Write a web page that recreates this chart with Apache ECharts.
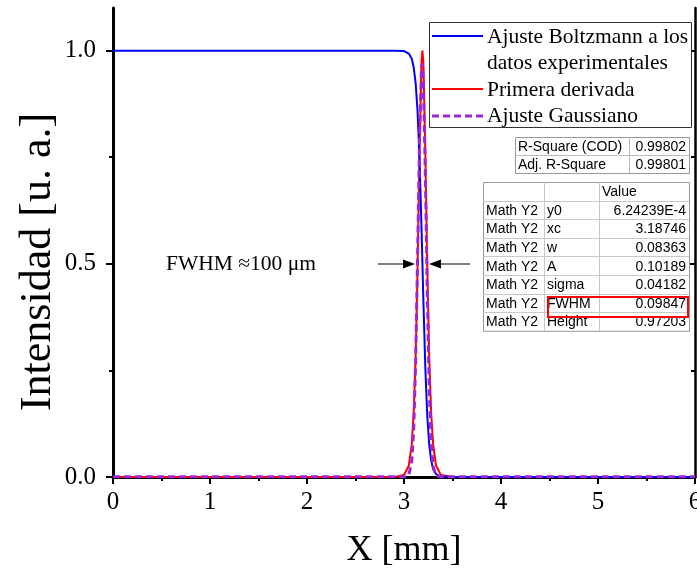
<!DOCTYPE html>
<html>
<head>
<meta charset="utf-8">
<script src="https://cdn.jsdelivr.net/npm/echarts@6/dist/echarts.min.js"></script>
<style>html,body{margin:0;padding:0;background:#fff;overflow:hidden;}#c{width:697px;height:569px;}</style>
</head>
<body>
<div id="c"></div>
<script>
// ---- data ----
const xVals = [0, 2.9, 3.0, 3.05, 3.08, 3.10, 3.12, 3.14, 3.16, 3.18, 3.19, 3.20, 3.22, 3.24, 3.26, 3.28, 3.30, 3.33, 3.38, 3.5, 6];
const boltzmannY = [1, 1, 0.999, 0.993, 0.981, 0.961, 0.924, 0.857, 0.745, 0.588, 0.5, 0.412, 0.255, 0.143, 0.076, 0.039, 0.019, 0.007, 0.001, 0, 0];
const derivativeY = [0, 0, 0.005, 0.027, 0.077, 0.15, 0.28, 0.49, 0.76, 0.97, 1.0, 0.97, 0.76, 0.49, 0.28, 0.15, 0.077, 0.027, 0.005, 0, 0];
const gaussianY = [0.0006, 0.0006, 0.0006, 0.005, 0.037, 0.111, 0.269, 0.516, 0.789, 0.958, 0.970, 0.926, 0.711, 0.435, 0.212, 0.082, 0.025, 0.003, 0.0006, 0.0006, 0.0006];

const yMajorTicks = [0, 0.5, 1.0];
const yMinorTicks = [0.25, 0.75];

const xTitle = 'X [mm]';
const yTitle = 'Intensidad [u. a.]';
const legendLabels = ['Ajuste Boltzmann a los', 'datos experimentales', 'Primera derivada', 'Ajuste Gaussiano'];
const fitStatNames = ['R-Square (COD)', 'Adj. R-Square'];
const fitStatValues = ['0.99802', '0.99801'];
const paramHeader = 'Value';
const paramRowLabel = 'Math Y2';
const paramNames = ['y0', 'xc', 'w', 'A', 'sigma', 'FWHM', 'Height'];
const paramValues = ['6.24239E-4', '3.18746', '0.08363', '0.10189', '0.04182', '0.09847', '0.97203'];
const fwhmText = 'FWHM \u2248100 \u03bcm';

// ---- styles ----
const SERIF = 'Liberation Serif';
const SANS = 'Liberation Sans';
const BLUE = '#0000ff', RED = '#ff0000', PURPLE = '#9d25d6';
const DASH = [7, 4];

const pairs = ys => xVals.map((x, i) => [x, ys[i]]);

const graphics = [];
// y-axis title (rotated)
graphics.push({type: 'text', x: 38, y: 262, rotation: Math.PI / 2,
  style: {text: yTitle, x: 0, y: 0, font: '44px "' + SERIF + '"', fill: '#000', textAlign: 'center', textVerticalAlign: 'middle'}, z: 5});

// legend box
const L = {x: 429, y: 22, w: 262, h: 105};
graphics.push({type: 'rect', shape: {x: L.x + 0.5, y: L.y + 0.5, width: L.w, height: L.h}, style: {fill: '#fff', stroke: '#333', lineWidth: 1}, z: 10});
const legLines = [
  {y: 36, color: BLUE, dash: null, w: 2},
  {y: 89, color: RED, dash: null, w: 2},
  {y: 116, color: PURPLE, dash: DASH, w: 3}
];
legLines.forEach(l => graphics.push({type: 'line', shape: {x1: 432, y1: l.y, x2: 483, y2: l.y}, style: {stroke: l.color, lineWidth: l.w, lineDash: l.dash}, z: 11}));
const legTextY = [37, 63, 90, 116];
legendLabels.forEach((t, i) => graphics.push({type: 'text', style: {text: t, x: 487, y: legTextY[i], font: '21.5px "' + SERIF + '"', fill: '#000', textVerticalAlign: 'middle'}, z: 11}));

// fit-stat table
const tFont = '14px "' + SANS + '"';
const T1 = {x: 515, y: 137, w: 174, rowH: 18, col: 629};
graphics.push({type: 'rect', shape: {x: T1.x + 0.5, y: T1.y + 0.5, width: T1.w, height: T1.rowH * 2}, style: {fill: '#fff', stroke: '#999', lineWidth: 1}, z: 10});
graphics.push({type: 'line', shape: {x1: T1.x, y1: T1.y + T1.rowH + 0.5, x2: T1.x + T1.w, y2: T1.y + T1.rowH + 0.5}, style: {stroke: '#bbb', lineWidth: 1}, z: 11});
graphics.push({type: 'line', shape: {x1: T1.col + 0.5, y1: T1.y, x2: T1.col + 0.5, y2: T1.y + 2 * T1.rowH}, style: {stroke: '#bbb', lineWidth: 1}, z: 11});
fitStatNames.forEach((n, i) => {
  const cy = T1.y + T1.rowH * (i + 0.5) + 1;
  graphics.push({type: 'text', style: {text: n, x: T1.x + 3, y: cy, font: tFont, fill: '#000', textVerticalAlign: 'middle'}, z: 12});
  graphics.push({type: 'text', style: {text: fitStatValues[i], x: T1.x + T1.w - 3, y: cy, font: tFont, fill: '#000', textAlign: 'right', textVerticalAlign: 'middle'}, z: 12});
});

// parameter table
const T2 = {x: 483, y: 182, w: 206, rowH: 18.6, c1: 544, c2: 599};
const nRows = paramNames.length + 1;
graphics.push({type: 'rect', shape: {x: T2.x + 0.5, y: T2.y + 0.5, width: T2.w, height: T2.rowH * nRows}, style: {fill: '#fff', stroke: '#999', lineWidth: 1}, z: 10});
for (let r = 1; r < nRows; r++) {
  const yy = Math.round(T2.y + r * T2.rowH) + 0.5;
  graphics.push({type: 'line', shape: {x1: T2.x, y1: yy, x2: T2.x + T2.w, y2: yy}, style: {stroke: '#c8c8c8', lineWidth: 1}, z: 11});
}
[T2.c1, T2.c2].forEach(cx => graphics.push({type: 'line', shape: {x1: cx + 0.5, y1: T2.y, x2: cx + 0.5, y2: T2.y + nRows * T2.rowH}, style: {stroke: '#c8c8c8', lineWidth: 1}, z: 11}));
graphics.push({type: 'text', style: {text: paramHeader, x: T2.c2 + 3, y: T2.y + T2.rowH * 0.5 + 1, font: tFont, fill: '#000', textVerticalAlign: 'middle'}, z: 12});
paramNames.forEach((n, i) => {
  const cy = T2.y + T2.rowH * (i + 1.5) + 1;
  graphics.push({type: 'text', style: {text: paramRowLabel, x: T2.x + 3, y: cy, font: tFont, fill: '#000', textVerticalAlign: 'middle'}, z: 12});
  graphics.push({type: 'text', style: {text: n, x: T2.c1 + 3, y: cy, font: tFont, fill: '#000', textVerticalAlign: 'middle'}, z: 12});
  graphics.push({type: 'text', style: {text: paramValues[i], x: T2.x + T2.w - 3, y: cy, font: tFont, fill: '#000', textAlign: 'right', textVerticalAlign: 'middle'}, z: 12});
});
// red highlight box around FWHM row
graphics.push({type: 'rect', shape: {x: 548, y: 297, width: 140, height: 20}, style: {fill: 'none', stroke: RED, lineWidth: 2}, z: 13});

// FWHM annotation
graphics.push({type: 'text', style: {text: fwhmText, x: 166, y: 264, font: '21.5px "' + SERIF + '"', fill: '#000', textVerticalAlign: 'middle'}, z: 11});
graphics.push({type: 'line', shape: {x1: 378, y1: 264, x2: 406, y2: 264}, style: {stroke: '#000', lineWidth: 1}, z: 11});
graphics.push({type: 'polygon', shape: {points: [[415, 264], [403, 259.5], [403, 268.5]]}, style: {fill: '#000'}, z: 11});
graphics.push({type: 'line', shape: {x1: 438, y1: 264, x2: 470, y2: 264}, style: {stroke: '#000', lineWidth: 1}, z: 11});
graphics.push({type: 'polygon', shape: {points: [[429, 264], [441, 259.5], [441, 268.5]]}, style: {fill: '#000'}, z: 11});

const axLine = w => ({show: true, lineStyle: {color: '#000', width: w}});
const noLabel = {show: false};

const option = {
  backgroundColor: '#fff',
  animation: false,
  grid: {left: 113, right: 2, top: 8, bottom: 92, containLabel: false, outerBoundsMode: 'none'},
  xAxis: [
    {
      type: 'value', position: 'bottom', min: 0, max: 6, interval: 1,
      axisLine: axLine(3), splitLine: {show: false},
      axisTick: {show: true, inside: false, length: 7, lineStyle: {color: '#000', width: 2}},
      minorTick: {show: true, splitNumber: 2, length: 4, lineStyle: {color: '#000', width: 2}},
      axisLabel: {color: '#000', fontFamily: SERIF, fontSize: 25, margin: 13},
      name: xTitle, nameLocation: 'middle', nameGap: 56,
      nameTextStyle: {color: '#000', fontFamily: SERIF, fontSize: 36}
    },
    {
      type: 'value', position: 'top', min: 0, max: 6, interval: 1,
      axisLine: axLine(2.5), splitLine: {show: false},
      axisTick: {show: true, inside: true, length: 7, lineStyle: {color: '#000', width: 2}},
      minorTick: {show: true, splitNumber: 2, length: 4, lineStyle: {color: '#000', width: 2}},
      axisLabel: noLabel
    }
  ],
  yAxis: [
    {
      type: 'value', position: 'left', min: 0, max: 1.1,
      axisLine: axLine(3), splitLine: {show: false},
      axisTick: {show: true, inside: false, length: 7, customValues: yMajorTicks, lineStyle: {color: '#000', width: 2}},
      axisLabel: {color: '#000', fontFamily: SERIF, fontSize: 25, margin: 17, customValues: yMajorTicks, formatter: v => v.toFixed(1)}
    },
    {
      type: 'value', position: 'left', min: 0, max: 1.1,
      axisLine: {show: false}, splitLine: {show: false},
      axisTick: {show: true, inside: false, length: 4, customValues: yMinorTicks, lineStyle: {color: '#000', width: 2}},
      axisLabel: noLabel
    },
    {
      type: 'value', position: 'right', min: 0, max: 1.1,
      axisLine: axLine(2.5), splitLine: {show: false},
      axisTick: {show: true, inside: true, length: 7, customValues: yMajorTicks, lineStyle: {color: '#000', width: 2}},
      axisLabel: noLabel
    },
    {
      type: 'value', position: 'right', min: 0, max: 1.1,
      axisLine: {show: false}, splitLine: {show: false},
      axisTick: {show: true, inside: true, length: 4, customValues: yMinorTicks, lineStyle: {color: '#000', width: 2}},
      axisLabel: noLabel
    }
  ],
  series: [
    {name: 'Primera derivada', type: 'line', data: pairs(derivativeY), showSymbol: false, smooth: false,
     lineStyle: {color: RED, width: 2}, z: 3},
    {name: 'Ajuste Boltzmann a los datos experimentales', type: 'line', data: pairs(boltzmannY), showSymbol: false, smooth: false,
     lineStyle: {color: BLUE, width: 2}, z: 4},
    {name: 'Ajuste Gaussiano', type: 'line', data: pairs(gaussianY), showSymbol: false, smooth: false,
     lineStyle: {color: PURPLE, width: 3, type: DASH}, z: 5}
  ],
  graphic: graphics
};

const chart = echarts.init(document.getElementById('c'), null, {renderer: 'canvas'});
chart.setOption(option);
</script>
</body>
</html>
